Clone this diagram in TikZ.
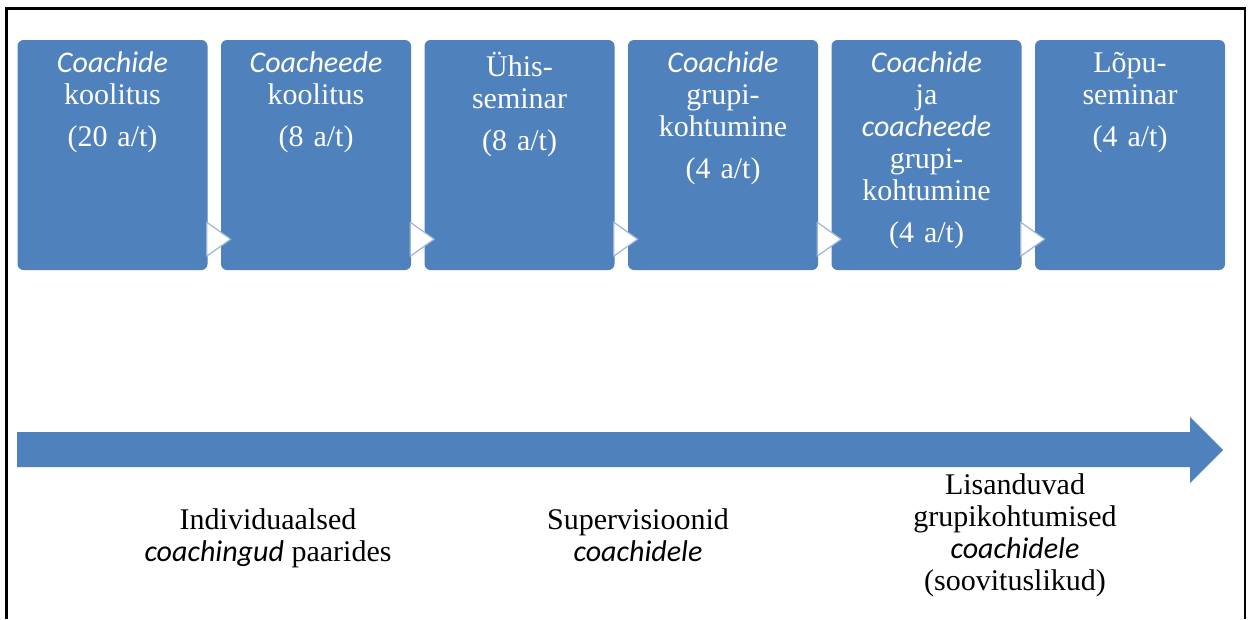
\documentclass[tikz,border=0pt]{standalone}
\usepackage{fontspec}
\setmainfont{Liberation Serif}
\newfontfamily\itfont{Carlito}
\usetikzlibrary{calc}
\definecolor{boxblue}{HTML}{4F81BD}
\definecolor{chevedge}{HTML}{9DB5D8}
\newcommand{\ci}[1]{{\itfont\itshape #1}}
\begin{document}
\begin{tikzpicture}[x=1pt,y=-1pt]
\tikzset{
 stage/.style={fill=boxblue, rounded corners=6pt, minimum width=190pt, minimum height=230pt, inner sep=0pt},
 stagetext/.style={anchor=north, text=white, align=center, font=\fontsize{30}{32}\selectfont, inner sep=0pt, text width=185pt},
 chev/.style={fill=white, draw=chevedge, line width=1.2pt, line join=round},
 note/.style={align=center, font=\fontsize{30}{32}\selectfont, inner sep=0pt},
 frame/.style={draw=black, line width=2.5pt},
 timeline/.style={fill=boxblue},
}
\useasboundingbox (0,0) rectangle (1252,619);
\fill[white] (0,0) rectangle (1252,619);
% outer frame
\draw[frame] (6.5,619) -- (6.5,8.5) -- (1245,8.5) -- (1245,619);
% stage boxes
\node[stage] (b1) at (112.5,155) {};
\node[stage] (b2) at (316,155) {};
\node[stage] (b3) at (519.5,155) {};
\node[stage] (b4) at (723,155) {};
\node[stage] (b5) at (926.5,155) {};
\node[stage] (b6) at (1130,155) {};
% stage texts
\node[stagetext] (t1) at ($(b1.north)+(0,12)$) {\ci{Coachide}\\ koolitus\\[10pt] (20 a/t)};
\node[stagetext] (t2) at ($(b2.north)+(0,12)$) {\ci{Coacheede}\\ koolitus\\[10pt] (8 a/t)};
\node[stagetext] (t3) at ($(b3.north)+(0,12)$) {Ühis-\\ seminar\\[10pt] (8 a/t)};
\node[stagetext] (t4) at ($(b4.north)+(0,12)$) {\ci{Coachide}\\ grupi-\\ kohtumine\\[10pt] (4 a/t)};
\node[stagetext] (t5) at ($(b5.north)+(0,12)$) {\ci{Coachide}\\ ja\\ \ci{coacheede}\\ grupi-\\ kohtumine\\[10pt] (4 a/t)};
\node[stagetext] (t6) at ($(b6.north)+(0,12)$) {Lõpu-\\ seminar\\[10pt] (4 a/t)};
% chevrons between boxes
\foreach \a in {b1,b2,b3,b4,b5}{
  \draw[chev] ($(\a.south east)+(-1,-48)$) -- ($(\a.south east)+(23,-31)$) -- ($(\a.south east)+(-1,-14)$) -- cycle;
}
% timeline arrow
\fill[timeline] (17,432) -- (1190,432) -- (1190,417) -- (1223,450) -- (1190,483) -- (1190,467) -- (17,467) -- cycle;
% notes
\node[note] (n1) at (268,538) {Individuaalsed\\ \ci{coachingud} paarides};
\node[note] (n2) at (638,535) {Supervisioonid\\ \ci{coachidele}};
\node[note] (n3) at (1015,535) {Lisanduvad\\ grupikohtumised\\ \ci{coachidele}\\ (soovituslikud)};
\end{tikzpicture}
\end{document}
